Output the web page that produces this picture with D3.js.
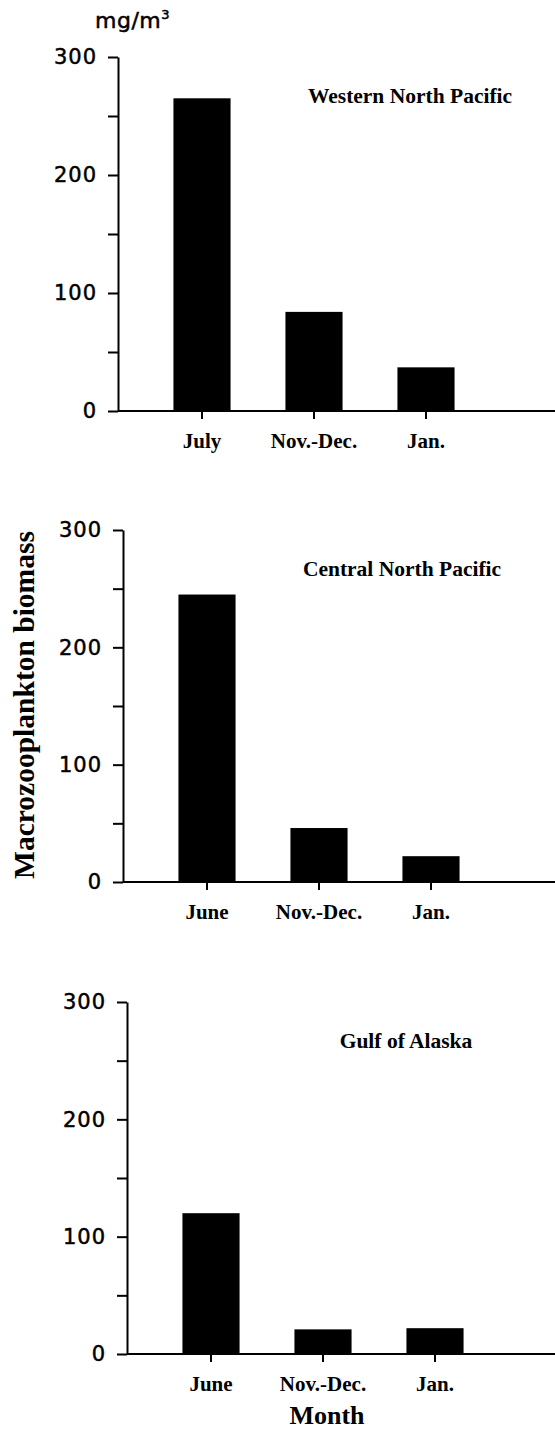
<html>
<meta charset="utf-8">
<style>
body { margin: 0; background: #fff; }
.axis path, .axis line { stroke: #000; stroke-width: 2px; }
.axis text { font-family: "DejaVu Sans", sans-serif; font-size: 21px; fill: #000; stroke: #000; stroke-width: 0.5px; letter-spacing: 1px; }
.axis text.cat { font-family: "Liberation Serif", serif; font-weight: bold; font-size: 21px; stroke: none; letter-spacing: 0; }
.title { font-family: "Liberation Serif", serif; font-weight: bold; font-size: 21.5px; }
</style>
<body>
<script src="https://d3js.org/d3.v7.min.js"></script>
<script>

// the data
var regions = ["Western North Pacific", "Central North Pacific", "Gulf of Alaska"];
var months = [
  ["July", "Nov.-Dec.", "Jan."],
  ["June", "Nov.-Dec.", "Jan."],
  ["June", "Nov.-Dec.", "Jan."]
];
var biomass = [
  [265, 84, 37],
  [245, 46, 22],
  [120, 21, 22]
];
var yTicks = [0, 50, 100, 150, 200, 250, 300];

// where each panel sits on the page
var panels = [
  {x0: 118, top: 57,   bottom: 411,  titleX: 410},
  {x0: 123, top: 530,  bottom: 882,  titleX: 402},
  {x0: 127, top: 1002, bottom: 1354, titleX: 406}
];

var svg = d3.select("body").append("svg")
    .attr("width", 555)
    .attr("height", 1431);

panels.forEach(function(p, i) {
  var x = d3.scaleBand()
      .domain(months[i])
      .range([p.x0 + 28, p.x0 + 364])
      .paddingInner(0.49)
      .paddingOuter(0.245);
  var y = d3.scaleLinear().domain([0, 300]).range([p.bottom, p.top]);

  // bars
  svg.append("g").selectAll("rect")
      .data(biomass[i])
    .enter().append("rect")
      .attr("x", function(d, j) { return x(months[i][j]); })
      .attr("width", x.bandwidth())
      .attr("y", function(d) { return y(d); })
      .attr("height", function(d) { return y(0) - y(d); })
      .attr("fill", "#000");

  // y axis
  svg.append("g")
      .attr("class", "axis")
      .attr("transform", "translate(" + p.x0 + ",0)")
      .call(d3.axisLeft(y)
        .tickValues(yTicks)
        .tickSize(10)
        .tickSizeOuter(0)
        .tickPadding(11)
        .tickFormat(function(d) { return d % 100 === 0 ? d : ""; }));

  // x axis: runs out to the page edge
  var xa = svg.append("g")
      .attr("class", "axis")
      .attr("transform", "translate(0," + p.bottom + ")");
  xa.append("line")
      .attr("x1", p.x0).attr("x2", 555)
      .attr("y1", 0).attr("y2", 0);
  xa.selectAll(".tk")
      .data(months[i])
    .enter().append("line")
      .attr("x1", function(d) { return x(d) + x.bandwidth() / 2; })
      .attr("x2", function(d) { return x(d) + x.bandwidth() / 2; })
      .attr("y1", 0).attr("y2", 8);
  xa.selectAll(".cat")
      .data(months[i])
    .enter().append("text")
      .attr("class", "cat")
      .attr("x", function(d) { return x(d) + x.bandwidth() / 2; })
      .attr("y", 37)
      .attr("text-anchor", "middle")
      .text(function(d) { return d; });

  // region name
  svg.append("text")
      .attr("class", "title")
      .attr("x", p.titleX)
      .attr("y", p.top + 46)
      .attr("text-anchor", "middle")
      .text(regions[i]);
});

// units
var unit = svg.append("text")
    .attr("x", 95)
    .attr("y", 28)
    .style("font-family", "DejaVu Sans, sans-serif")
    .style("font-size", "22px")
    .style("letter-spacing", "0.5px")
    .style("stroke", "#000")
    .style("stroke-width", "0.5px");
unit.append("tspan").text("mg/m");
unit.append("tspan").attr("dy", -9).style("font-size", "13px").text("3");

// axis titles
svg.append("text")
    .attr("transform", "translate(34,705) rotate(-90)")
    .attr("text-anchor", "middle")
    .style("font-family", "Liberation Serif, serif")
    .style("font-weight", "bold")
    .style("font-size", "29.5px")
    .text("Macrozooplankton biomass");

svg.append("text")
    .attr("x", 327)
    .attr("y", 1424)
    .attr("text-anchor", "middle")
    .style("font-family", "Liberation Serif, serif")
    .style("font-weight", "bold")
    .style("font-size", "26px")
    .text("Month");

</script>
</body>
</html>
